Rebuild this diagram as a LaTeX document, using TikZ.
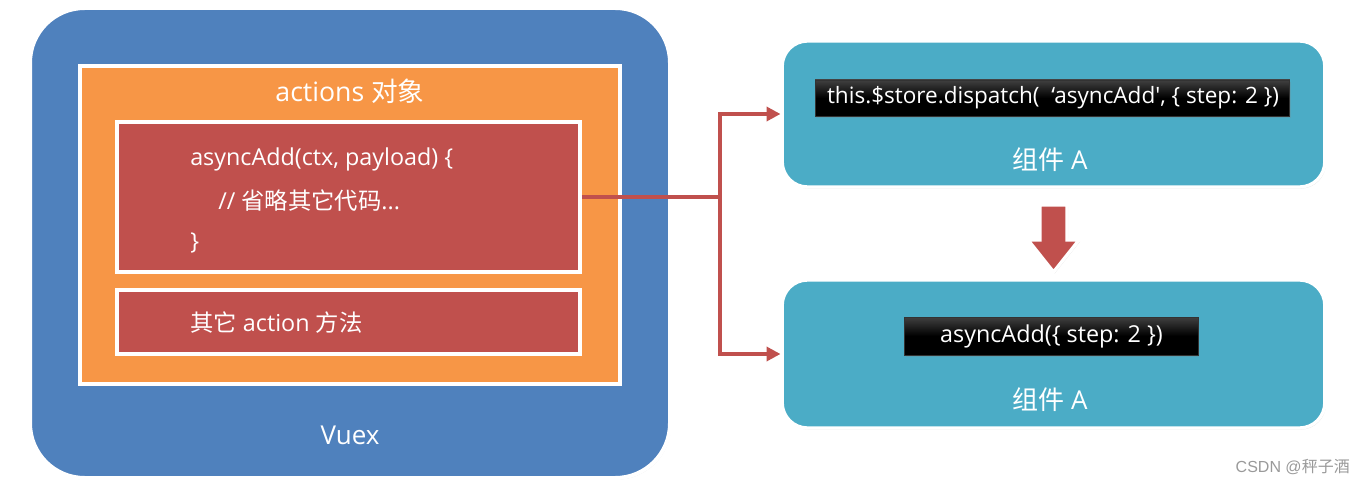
\documentclass[tikz,border=0pt]{standalone}
\usepackage{fontspec}
\setmainfont{Open Sans}
\newfontfamily\cjk{Noto Sans CJK SC}
\newfontfamily\wmfont{Liberation Sans}
\usetikzlibrary{arrows.meta,positioning,shadows}
\definecolor{VuexBlue}{HTML}{4F81BD}
\definecolor{ActOrange}{HTML}{F79646}
\definecolor{FnRed}{HTML}{C0504D}
\definecolor{CompTeal}{HTML}{4BACC6}
\definecolor{Mark}{HTML}{9A9A9A}
\tikzset{boxshadow/.style={drop shadow={opacity=0.22,shadow xshift=0.8pt,shadow yshift=-1.2pt}},vuex/.style={rectangle,rounded corners=41pt,draw=white,line width=3pt,fill=VuexBlue,boxshadow},actbox/.style={rectangle,draw=white,line width=3pt,fill=ActOrange,boxshadow},fnbox/.style={rectangle,draw=white,line width=3pt,fill=FnRed,boxshadow},comp/.style={rectangle,rounded corners=19pt,draw=white,line width=2.5pt,fill=CompTeal,boxshadow},codebar/.style={rectangle,top color=black!75,bottom color=black,middle color=black,draw=black!80,line width=0.6pt,text=white,inner sep=0pt,boxshadow},txt/.style={text=white,inner sep=0pt,font=\fontsize{17.5pt}{20pt}\selectfont},big/.style={txt,font=\fontsize{19.5pt}{22pt}\selectfont},link/.style={draw=FnRed,line width=3pt,-{Triangle[length=10.5pt,width=10.5pt]}}}

\begin{document}
\begin{tikzpicture}[x=0.75pt,y=-0.75pt]
\useasboundingbox[fill=white] (0,0) rectangle (1366,488);
\node[vuex,minimum width=480pt,minimum height=352.5pt] (V) at (350,243) {};\node[big] (VT) at (350,435) {Vuex};
\node[actbox,minimum width=405pt,minimum height=238.5pt] (Act) at (350,225) {};\node[txt,font=\fontsize{20pt}{23pt}\selectfont] (ActT) at (350,91) {actions {\cjk 对象}};
\node[fnbox,minimum width=347pt,minimum height=111.75pt] (Fn) at (348.5,197) {};
\node[txt,anchor=west] (F1) at (190,159) {asyncAdd(ctx, payload) \{};\node[txt,anchor=west] (F2) at (218,201) {// {\cjk 省略其它代码}...};\node[txt,anchor=west] (F3) at (190,243) {\}};
\node[fnbox,minimum width=347pt,minimum height=48pt] (Other) at (348.5,322) {};\node[txt,anchor=west] (OT) at (190,323) {{\cjk 其它} action {\cjk 方法}};
\node[comp,minimum width=407pt,minimum height=109.5pt] (CA) at (1053.5,114) {};\node[codebar,minimum width=356pt,minimum height=27pt] (CodeA) at (1052.5,98) {};\node[txt,font=\fontsize{16.9pt}{20pt}\selectfont] (CodeAT) at (1053,98) {this.\$store.dispatch(\ \ ‘asyncAdd\textquotesingle, \{ step: 2 \})};\node[big] (CAT) at (1050,160) {{\cjk 组件} A};
\node[comp,minimum width=407pt,minimum height=111pt] (CB) at (1053.5,354) {};\node[codebar,minimum width=220pt,minimum height=28.5pt] (CodeB) at (1051.5,336) {};\node[txt] (CodeBT) at (1051.5,336) {asyncAdd(\{ step: 2 \})};\node[big] (CBT) at (1050,400) {{\cjk 组件} A};
\draw[fill=FnRed,draw=white,line width=2.5pt,line join=miter,boxshadow] (1040,205) -- (1067,205) -- (1067,240) -- (1079,240) -- (1053.5,272) -- (1028,240) -- (1040,240) -- cycle;
\coordinate (J) at (720,197);
\draw[link] (Fn.east) -- (J) |- (CA.west);\draw[link] (J) |- (CB.west);
\node[text=Mark,inner sep=0pt,font=\wmfont\fontsize{12pt}{14pt}\selectfont,anchor=east] (WM) at (1350,467) {CSDN @{\cjk 秤子酒}};
\end{tikzpicture}
\end{document}
